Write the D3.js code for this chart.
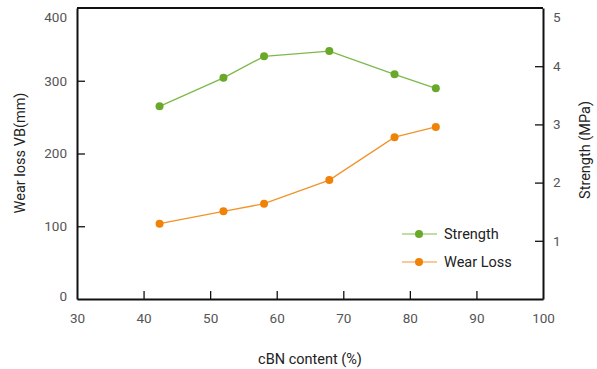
<!DOCTYPE html>
<html><head><meta charset="utf-8">
<script src="https://cdn.jsdelivr.net/npm/d3@7"></script>
<style>
body{margin:0;background:#fff;}
text{font-family:Roboto,"DejaVu Sans Condensed",sans-serif;}
</style></head>
<body><svg id="c" width="597" height="369"></svg>
<script>
const cbn = [42.4, 52.0, 58.1, 67.9, 77.7, 83.9];
const strength = [3.31, 3.80, 4.17, 4.26, 3.86, 3.62];
const wearLoss = [103.5, 120.5, 131, 163.5, 222.5, 236.5];
const xTicks = [30, 40, 50, 60, 70, 80, 90, 100];
const yLeftTicks = [0, 100, 200, 300, 400];
const yRightTicks = [1, 2, 3, 4, 5];
const seriesNames = ["Strength", "Wear Loss"];

const svg = d3.select("#c");
const L = 77, R = 543, T = 8, B = 299;
const x = d3.scaleLinear().domain([30, 100]).range([L, R]);
const yL = d3.scaleLinear().domain([0, 400]).range([B, T]);
const yR = d3.scaleLinear().domain([0, 5]).range([B, T]);

const green = "#6aa82a", greenLine = "#7cb94a", greenLeg = "#a9d384";
const orange = "#f08208", orangeLine = "#f2932a", orangeLeg = "#f8b777";

// frame
svg.append("line").attr("x1", L).attr("x2", R).attr("y1", T).attr("y2", T).attr("stroke", "#111").attr("stroke-width", 2);

function styleAxis(g) {
  g.select(".domain").attr("stroke", "#111").attr("stroke-width", 2);
  g.selectAll(".tick line").attr("stroke", "#111").attr("stroke-width", 1.3);
  g.selectAll(".tick text").attr("fill", "#555").attr("font-size", 13.5);
}

const gx = svg.append("g").attr("transform", `translate(0,${B})`)
  .call(d3.axisBottom(x).tickValues(xTicks).tickSize(-8).tickPadding(14).tickSizeOuter(0).tickFormat(d3.format("d")));
styleAxis(gx);
gx.selectAll(".tick line").filter(d => d === 30 || d === 100).remove();

const gl = svg.append("g").attr("transform", `translate(${L},0)`)
  .call(d3.axisLeft(yL).tickValues(yLeftTicks).tickSize(-8).tickPadding(10).tickSizeOuter(0).tickFormat(d3.format("d")));
styleAxis(gl);
gl.selectAll(".tick line").filter(d => d === 0 || d === 400).remove();
gl.selectAll(".tick text").filter(d => d === 400).attr("dy", "1.0em");
gl.selectAll(".tick text").filter(d => d === 0).attr("dy", "0.1em");

const gr = svg.append("g").attr("transform", `translate(${R},0)`)
  .call(d3.axisRight(yR).tickValues(yRightTicks).tickSize(-8).tickPadding(10).tickSizeOuter(0).tickFormat(d3.format("d")));
styleAxis(gr);
gr.selectAll(".tick line").filter(d => d === 5).remove();
gr.selectAll(".tick text").filter(d => d === 5).attr("dy", "1.0em");

// titles
svg.append("text").attr("x", 310).attr("y", 364).attr("text-anchor", "middle")
  .attr("font-size", 14.5).attr("fill", "#222").text("cBN content (%)");
svg.append("text").attr("transform", "translate(25,153) rotate(-90)").attr("text-anchor", "middle")
  .attr("font-size", 14.5).attr("fill", "#222").text("Wear loss VB(mm)");
svg.append("text").attr("transform", "translate(590,150) rotate(-90)").attr("text-anchor", "middle")
  .attr("font-size", 14.5).attr("fill", "#222").text("Strength (MPa)");

// series
const sData = cbn.map((c, i) => [c, strength[i]]);
const wData = cbn.map((c, i) => [c, wearLoss[i]]);
svg.append("path").datum(sData).attr("fill", "none").attr("stroke", greenLine).attr("stroke-width", 1.3)
  .attr("d", d3.line().x(d => x(d[0])).y(d => yR(d[1])));
svg.append("path").datum(wData).attr("fill", "none").attr("stroke", orangeLine).attr("stroke-width", 1.3)
  .attr("d", d3.line().x(d => x(d[0])).y(d => yL(d[1])));
svg.selectAll(".sp").data(sData).join("circle").attr("cx", d => x(d[0])).attr("cy", d => yR(d[1])).attr("r", 4).attr("fill", green);
svg.selectAll(".wp").data(wData).join("circle").attr("cx", d => x(d[0])).attr("cy", d => yL(d[1])).attr("r", 4).attr("fill", orange);

// legend
const leg = [[seriesNames[0], greenLeg, green, 234], [seriesNames[1], orangeLeg, orange, 262]];
leg.forEach(([name, lc, mc, y]) => {
  svg.append("line").attr("x1", 402).attr("x2", 437).attr("y1", y).attr("y2", y).attr("stroke", lc).attr("stroke-width", 1.5);
  svg.append("circle").attr("cx", 419).attr("cy", y).attr("r", 4).attr("fill", mc);
  svg.append("text").attr("x", 444).attr("y", y).attr("dy", "0.35em").attr("font-size", 14.5).attr("fill", "#222").text(name);
});
</script></body></html>
